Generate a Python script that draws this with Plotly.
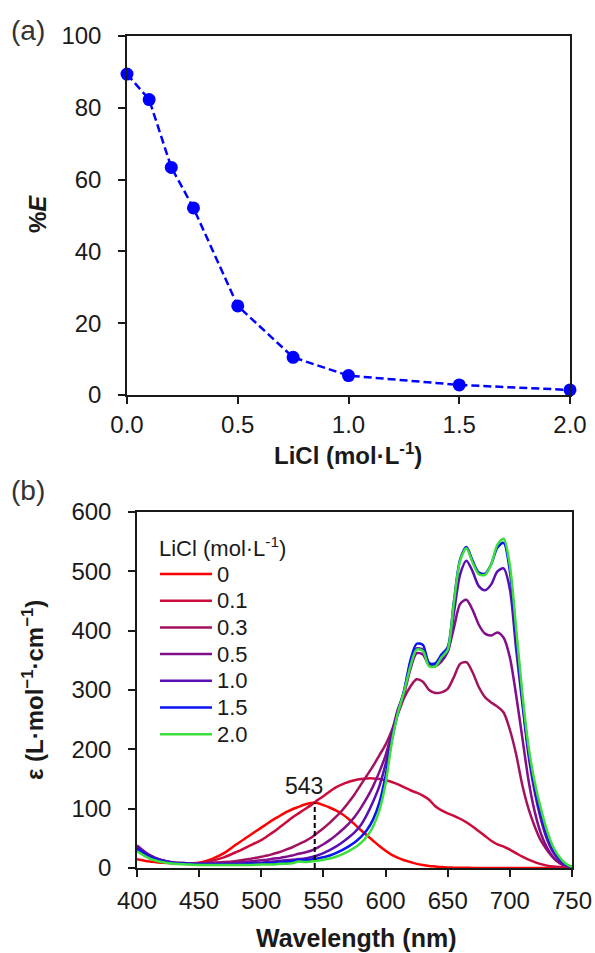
import plotly.graph_objects as go

FONT = "Liberation Sans, Arial, Helvetica, sans-serif"
INK = "#1a1a1a"
W, H = 595, 953

# ---- (a) extraction efficiency versus LiCl concentration ----
licl_mol_l = [0.0, 0.1, 0.2, 0.3, 0.5, 0.75, 1.0, 1.5, 2.0]
extraction_pct = [89.4, 82.3, 63.4, 52.1, 24.8, 10.5, 5.4, 2.8, 1.4]

# ---- (b) molar absorptivity spectra at several LiCl concentrations ----
wavelength_nm = [400, 410, 420, 430, 440, 450, 460, 470, 480, 490] + list(range(500, 755, 5))

eps_0 = [15, 11, 9, 8, 8, 9, 15, 25, 40, 54,
         68, 75, 82, 88, 94, 99, 103, 107, 109.5, 109.5,
         106, 102, 97, 91, 83, 74, 64, 55, 46, 37,
         29, 22, 17, 13, 10, 7, 5, 3.5, 2.5, 1.5,
         1, 0.6, 0.4, 0.3, 0.2, 0.2, 0.2, 0.2, 0.2, 0.2,
         0.2, 0.2, 0.2, 0.2, 0.2, 0.2, 0.2, 0.2, 0.2, 0.2,
         0.2]
eps_01 = [30, 18, 11, 8, 7, 8, 12, 18, 27, 37,
          47, 54, 61, 69, 77, 85, 92, 99, 106, 114,
          121, 129, 136, 141, 145, 148, 150, 151, 151, 150,
          148, 145, 141, 136, 131, 127, 122, 115, 104, 97,
          92, 88, 83, 77, 70, 62, 54, 46, 40, 36,
          31, 25, 19, 14, 10, 6.5, 4, 2.5, 1.5, 0.8,
          0.3]
eps_03 = [35, 20, 12, 9, 8, 8, 9, 10, 12, 15,
          19, 21, 24, 27, 31, 35, 40, 45, 51, 59,
          67, 76, 86, 97, 110, 124, 140, 156, 172, 190,
          208, 232, 260, 287, 306, 318, 314, 300, 295, 296,
          302, 322, 344, 347, 330, 305, 288, 279, 272, 262,
          233, 192, 140, 100, 70, 46, 30, 17, 8, 3,
          1]
eps_05 = [38, 22, 13, 9, 8, 7, 7, 8, 9, 11,
          13, 14, 16, 17, 19, 21, 24, 26, 29, 34,
          40, 47, 55, 64, 74, 86, 101, 118, 138, 162,
          190, 228, 268, 295, 335, 362, 360, 342, 340, 348,
          365, 405, 445, 452, 435, 410, 395, 392, 397, 388,
          355, 292, 220, 148, 95, 58, 34, 18, 9, 4,
          1.5]
eps_10 = [36, 21, 13, 9, 8, 7, 7, 7, 7, 8,
          9, 10, 11, 12, 13, 14, 15, 16, 18, 21,
          25, 30, 36, 43, 51, 60, 72, 90, 112, 138,
          175, 222, 265, 298, 345, 370, 368, 345, 342, 352,
          365, 430, 495, 518, 500, 475, 468, 478, 500, 505,
          470, 370, 278, 190, 128, 82, 48, 26, 13, 5,
          1.5]
eps_15 = [33, 19, 12, 8, 7, 6, 6, 6, 6, 7,
          7, 8, 8, 9, 10, 11, 13, 13, 14, 16,
          18, 21, 25, 30, 36, 43, 52, 64, 82, 110,
          155, 215, 262, 300, 350, 378, 376, 345, 345, 360,
          372, 450, 520, 541, 518, 498, 496, 512, 540, 548,
          500, 395, 285, 198, 138, 92, 57, 32, 16, 6,
          2]
eps_20 = [28, 16, 10, 7, 6, 5, 5, 5, 5, 5,
          6, 6, 6, 7, 7, 8, 11, 10, 11, 12,
          14, 16, 19, 23, 28, 34, 42, 53, 70, 97,
          142, 212, 262, 298, 340, 368, 366, 340, 340, 355,
          368, 448, 518, 539, 515, 495, 494, 512, 545, 555,
          510, 405, 295, 205, 145, 100, 62, 35, 18, 7,
          2]

series_labels = ["0", "0.1", "0.3", "0.5", "1.0", "1.5", "2.0"]
series_values = [eps_0, eps_01, eps_03, eps_05, eps_10, eps_15, eps_20]
series_colors = ["#ff0000", "#cc0a3c", "#a3125e", "#820e8a", "#5a0fb4", "#0a14f0", "#3ce03c"]

peak_nm = 543
peak_eps = 110


def px(x):
    return x / W


def py(y):
    return 1 - y / H


fig = go.Figure()

# panel (a)
fig.add_trace(go.Scatter(
    x=licl_mol_l, y=extraction_pct, mode="lines+markers",
    line=dict(color="#0000ff", width=2.5, dash="8px,4px"),
    marker=dict(color="#0000ff", size=13),
    cliponaxis=False, showlegend=False, xaxis="x", yaxis="y",
))

# panel (b) spectra
for lab, vals, col in zip(series_labels, series_values, series_colors):
    fig.add_trace(go.Scatter(
        x=wavelength_nm, y=vals, mode="lines", name=lab,
        line=dict(color=col, width=2.5, shape="spline", smoothing=0.8),
        showlegend=False, xaxis="x2", yaxis="y2",
    ))

# marker of the absorption maximum at LiCl = 0
fig.add_trace(go.Scatter(
    x=[peak_nm, peak_nm], y=[0, peak_eps], mode="lines",
    line=dict(color="#000000", width=2, dash="5px,3px"),
    showlegend=False, xaxis="x2", yaxis="y2",
))

axis_common = dict(
    showline=True, linecolor=INK, linewidth=1.5, mirror=True,
    ticks="outside", ticklen=7, tickwidth=1.5, tickcolor=INK,
    showgrid=False, zeroline=False, automargin=False,
    tickfont=dict(family=FONT, size=24, color=INK),
)

fig.update_layout(
    template="none",
    width=W, height=H,
    margin=dict(l=0, r=0, t=0, b=0, pad=0, autoexpand=False),
    paper_bgcolor="white", plot_bgcolor="white",
    font=dict(family=FONT, color=INK),
    xaxis=dict(domain=[px(127), px(570)], range=[0, 2], tickvals=[0, 0.5, 1, 1.5, 2],
               tickformat=".1f", anchor="y", ticklabelstandoff=0, **axis_common),
    yaxis=dict(domain=[py(395), py(36)], range=[0, 100], dtick=20, anchor="x",
               ticklabelstandoff=12, **axis_common),
    xaxis2=dict(domain=[px(137), px(572)], range=[400, 750], dtick=50, anchor="y2",
                ticklabelstandoff=3, **axis_common),
    yaxis2=dict(domain=[py(868), py(512)], range=[0, 600], dtick=100, anchor="x2",
                ticklabelstandoff=12, **axis_common),
)

annotations = [
    dict(text="(a)", x=px(28), y=py(30), font=dict(size=28, color="#333333")),
    dict(text="(b)", x=px(28), y=py(490), font=dict(size=28, color="#333333")),
    dict(text="<b>%<i>E</i></b>", x=px(37), y=py(214), textangle=-90, font=dict(size=24)),
    dict(text="<b>LiCl (mol·L<sup>-1</sup>)</b>", x=px(348), y=py(454), font=dict(size=24)),
    dict(text="<b>ε (L·mol<sup>−1</sup>·cm<sup>−1</sup>)</b>", x=px(33), y=py(690),
         textangle=-90, font=dict(size=24)),
    dict(text="<b>Wavelength (nm)</b>", x=px(356), y=py(938), font=dict(size=25)),
    dict(text="LiCl (mol·L<sup>-1</sup>)", x=px(157), y=py(547), xanchor="left",
         font=dict(size=22)),
]
for a in annotations:
    a.setdefault("xref", "paper")
    a.setdefault("yref", "paper")
    a.setdefault("xanchor", "center")
    a.setdefault("yanchor", "middle")
    a.setdefault("showarrow", False)
    a["font"].setdefault("family", FONT)
    a["font"].setdefault("color", INK)

annotations.append(dict(
    text=str(peak_nm), x=peak_nm, y=peak_eps, xref="x2", yref="y2",
    xanchor="center", yanchor="bottom", xshift=-11, yshift=2, showarrow=False,
    font=dict(family=FONT, size=23, color=INK),
))

# legend block inside panel (b)
shapes = []
for i, (lab, col) in enumerate(zip(series_labels, series_colors)):
    yy = 574 + i * 26.7
    shapes.append(dict(type="line", xref="paper", yref="paper",
                       x0=px(160), x1=px(212), y0=py(yy), y1=py(yy),
                       line=dict(color=col, width=2.5)))
    annotations.append(dict(text=lab, xref="paper", yref="paper", x=px(215), y=py(yy),
                            xanchor="left", yanchor="middle", showarrow=False,
                            font=dict(family=FONT, size=22, color=INK)))

fig.update_layout(annotations=annotations, shapes=shapes)

fig.write_html("out.html")
